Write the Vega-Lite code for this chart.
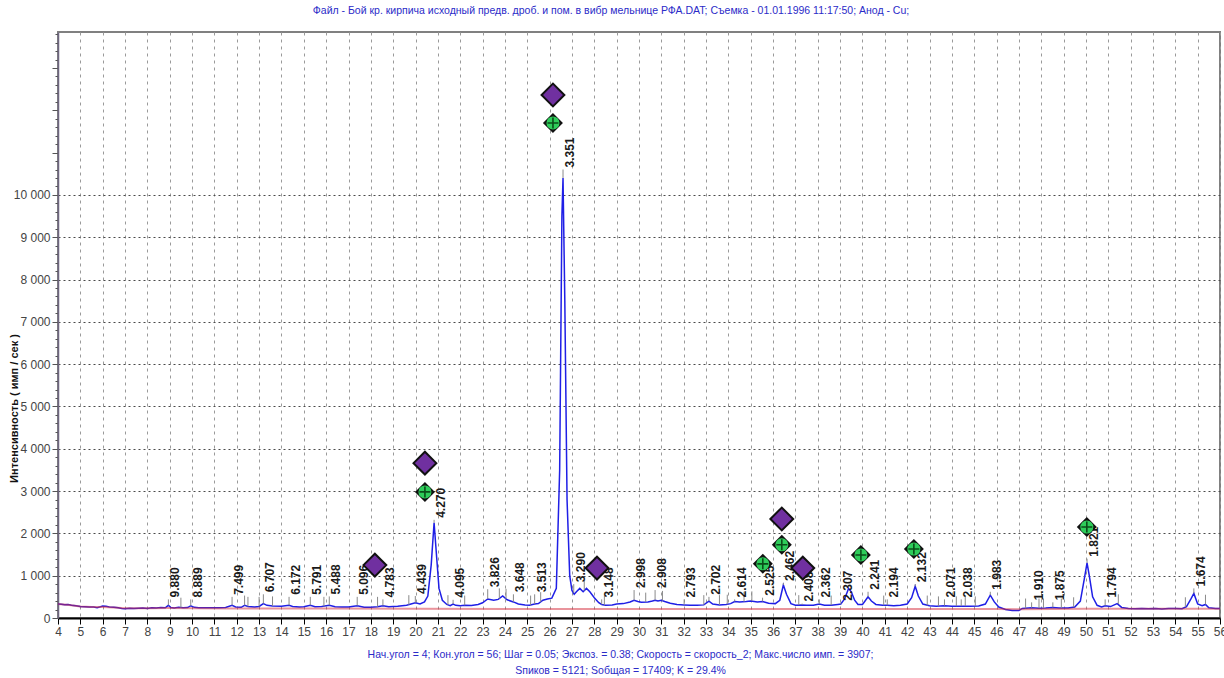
{
  "$schema": "https://vega.github.io/schema/vega-lite/v6.json",
  "width": 1162,
  "height": 586,
  "autosize": {"type": "none"},
  "padding": {"left": 58, "top": 32, "right": 4, "bottom": 60},
  "background": "white",
  "config": {
    "font": "Liberation Sans",
    "view": {"stroke": "#808080", "strokeWidth": 2}
  },
  "title": {
    "text": "Файл - Бой кр. кирпича исходный предв. дроб. и пом. в вибр мельнице РФА.DAT;  Съемка - 01.01.1996 11:17:50;  Анод - Cu;",
    "fontSize": 10.5,
    "fontWeight": "normal",
    "color": "#2b2bc8",
    "anchor": "middle",
    "frame": "group",
    "dx": -28,
    "offset": 12
  },
  "datasets": {
    "profile": [
      {"t":4.0,"I":330},{"t":4.15,"I":325},{"t":4.3,"I":315},{"t":4.45,"I":318},{"t":4.6,"I":300},{"t":4.8,"I":290},{"t":5.0,"I":272},{"t":5.2,"I":268},{"t":5.4,"I":262},{"t":5.6,"I":258},{"t":5.75,"I":245},{"t":5.9,"I":268},{"t":6.0,"I":285},{"t":6.15,"I":275},{"t":6.3,"I":262},{"t":6.5,"I":255},{"t":6.7,"I":242},{"t":6.85,"I":225},{"t":7.0,"I":218},{"t":7.2,"I":232},{"t":7.4,"I":222},{"t":7.6,"I":232},{"t":7.8,"I":236},{"t":8.0,"I":226},{"t":8.2,"I":240},{"t":8.4,"I":236},{"t":8.6,"I":246},{"t":8.8,"I":240},{"t":8.94,"I":300},{"t":9.05,"I":246},{"t":9.2,"I":236},{"t":9.4,"I":252},{"t":9.6,"I":242},{"t":9.8,"I":246},{"t":9.94,"I":290},{"t":10.1,"I":252},{"t":10.3,"I":244},{"t":10.6,"I":240},{"t":10.9,"I":242},{"t":11.2,"I":244},{"t":11.5,"I":248},{"t":11.79,"I":300},{"t":11.95,"I":262},{"t":12.2,"I":252},{"t":12.35,"I":300},{"t":12.5,"I":272},{"t":12.8,"I":262},{"t":13.0,"I":272},{"t":13.19,"I":340},{"t":13.35,"I":300},{"t":13.6,"I":282},{"t":14.0,"I":280},{"t":14.34,"I":300},{"t":14.5,"I":272},{"t":14.8,"I":262},{"t":15.0,"I":266},{"t":15.29,"I":300},{"t":15.5,"I":266},{"t":15.8,"I":272},{"t":16.14,"I":300},{"t":16.4,"I":266},{"t":16.7,"I":262},{"t":17.0,"I":262},{"t":17.39,"I":290},{"t":17.7,"I":256},{"t":18.0,"I":256},{"t":18.3,"I":266},{"t":18.54,"I":290},{"t":18.8,"I":266},{"t":19.2,"I":276},{"t":19.6,"I":300},{"t":19.99,"I":360},{"t":20.2,"I":330},{"t":20.4,"I":380},{"t":20.55,"I":520},{"t":20.7,"I":1250},{"t":20.83,"I":2250},{"t":20.95,"I":1400},{"t":21.05,"I":700},{"t":21.2,"I":420},{"t":21.4,"I":320},{"t":21.55,"I":290},{"t":21.68,"I":330},{"t":21.8,"I":300},{"t":22.0,"I":290},{"t":22.2,"I":300},{"t":22.5,"I":295},{"t":22.8,"I":320},{"t":23.0,"I":360},{"t":23.23,"I":450},{"t":23.5,"I":420},{"t":23.7,"I":440},{"t":23.9,"I":520},{"t":24.1,"I":430},{"t":24.38,"I":380},{"t":24.6,"I":330},{"t":24.9,"I":310},{"t":25.1,"I":300},{"t":25.33,"I":330},{"t":25.5,"I":340},{"t":25.7,"I":420},{"t":25.9,"I":450},{"t":26.1,"I":470},{"t":26.3,"I":700},{"t":26.45,"I":3500},{"t":26.55,"I":9500},{"t":26.6,"I":10400},{"t":26.68,"I":7500},{"t":26.78,"I":2800},{"t":26.9,"I":1000},{"t":27.0,"I":650},{"t":27.1,"I":560},{"t":27.2,"I":620},{"t":27.35,"I":700},{"t":27.5,"I":620},{"t":27.65,"I":700},{"t":27.8,"I":620},{"t":28.0,"I":480},{"t":28.2,"I":360},{"t":28.33,"I":320},{"t":28.5,"I":300},{"t":28.8,"I":310},{"t":29.0,"I":330},{"t":29.3,"I":340},{"t":29.6,"I":380},{"t":29.78,"I":420},{"t":29.95,"I":390},{"t":30.1,"I":370},{"t":30.4,"I":380},{"t":30.6,"I":400},{"t":30.72,"I":420},{"t":30.85,"I":400},{"t":31.0,"I":420},{"t":31.15,"I":390},{"t":31.4,"I":350},{"t":31.7,"I":320},{"t":32.02,"I":310},{"t":32.3,"I":300},{"t":32.6,"I":300},{"t":32.9,"I":310},{"t":33.13,"I":400},{"t":33.3,"I":330},{"t":33.6,"I":310},{"t":33.9,"I":320},{"t":34.1,"I":340},{"t":34.28,"I":390},{"t":34.5,"I":380},{"t":34.8,"I":390},{"t":35.0,"I":400},{"t":35.3,"I":380},{"t":35.53,"I":390},{"t":35.8,"I":350},{"t":36.1,"I":340},{"t":36.3,"I":420},{"t":36.46,"I":780},{"t":36.6,"I":560},{"t":36.8,"I":340},{"t":37.0,"I":300},{"t":37.3,"I":310},{"t":37.5,"I":300},{"t":37.8,"I":300},{"t":38.07,"I":330},{"t":38.3,"I":300},{"t":38.6,"I":300},{"t":38.9,"I":320},{"t":39.03,"I":330},{"t":39.2,"I":450},{"t":39.38,"I":700},{"t":39.5,"I":620},{"t":39.65,"I":420},{"t":39.8,"I":320},{"t":40.0,"I":320},{"t":40.1,"I":390},{"t":40.25,"I":500},{"t":40.4,"I":400},{"t":40.6,"I":320},{"t":40.9,"I":300},{"t":41.11,"I":300},{"t":41.4,"I":290},{"t":41.7,"I":300},{"t":42.0,"I":330},{"t":42.2,"I":480},{"t":42.36,"I":750},{"t":42.5,"I":520},{"t":42.7,"I":330},{"t":43.0,"I":290},{"t":43.3,"I":280},{"t":43.67,"I":290},{"t":44.0,"I":280},{"t":44.42,"I":280},{"t":44.8,"I":280},{"t":45.2,"I":285},{"t":45.5,"I":330},{"t":45.72,"I":540},{"t":45.9,"I":380},{"t":46.1,"I":260},{"t":46.4,"I":200},{"t":46.7,"I":180},{"t":47.0,"I":175},{"t":47.15,"I":225},{"t":47.57,"I":240},{"t":47.9,"I":232},{"t":48.2,"I":238},{"t":48.52,"I":250},{"t":48.8,"I":236},{"t":49.2,"I":238},{"t":49.5,"I":260},{"t":49.75,"I":400},{"t":49.92,"I":900},{"t":50.05,"I":1300},{"t":50.15,"I":1000},{"t":50.3,"I":500},{"t":50.5,"I":300},{"t":50.7,"I":260},{"t":50.86,"I":290},{"t":51.1,"I":270},{"t":51.4,"I":340},{"t":51.6,"I":250},{"t":51.9,"I":225},{"t":52.2,"I":220},{"t":52.5,"I":226},{"t":52.8,"I":216},{"t":53.1,"I":222},{"t":53.4,"I":214},{"t":53.7,"I":222},{"t":54.0,"I":224},{"t":54.3,"I":220},{"t":54.5,"I":270},{"t":54.7,"I":450},{"t":54.83,"I":580},{"t":55.0,"I":330},{"t":55.2,"I":290},{"t":55.35,"I":320},{"t":55.5,"I":240},{"t":55.8,"I":226},{"t":56.0,"I":222}
    ],
    "bg": [
      {"t":4,"I":330},{"t":4.5,"I":305},{"t":5,"I":272},{"t":5.5,"I":260},{"t":6,"I":258},{"t":6.5,"I":250},{"t":7,"I":232},{"t":8,"I":232},{"t":9,"I":236},{"t":10,"I":232},{"t":12,"I":226},{"t":16,"I":222},{"t":20,"I":218},{"t":25,"I":215},{"t":30,"I":213},{"t":35,"I":212},{"t":40,"I":212},{"t":46,"I":212},{"t":47,"I":208},{"t":50,"I":216},{"t":56,"I":218}
    ],
    "ticks": [
      {"t":8.94,"I":300,"I2":440},{"t":9.94,"I":290,"I2":440},{"t":11.79,"I":300,"I2":500},{"t":13.19,"I":340,"I2":560},{"t":14.34,"I":300,"I2":500},{"t":15.29,"I":300,"I2":500},{"t":16.14,"I":300,"I2":510},{"t":17.39,"I":290,"I2":500},{"t":18.54,"I":290,"I2":440},{"t":19.99,"I":360,"I2":520},{"t":20.83,"I":2250,"I2":2320},{"t":21.68,"I":330,"I2":430},{"t":23.23,"I":450,"I2":680},{"t":24.38,"I":380,"I2":560},{"t":25.33,"I":330,"I2":560},{"t":26.6,"I":10400,"I2":10600},{"t":27.08,"I":600,"I2":800},{"t":28.33,"I":320,"I2":440},{"t":29.78,"I":420,"I2":660},{"t":30.72,"I":420,"I2":660},{"t":32.02,"I":310,"I2":440},{"t":33.13,"I":400,"I2":500},{"t":34.28,"I":390,"I2":440},{"t":35.53,"I":390,"I2":480},{"t":36.46,"I":780,"I2":830},{"t":37.3,"I":310,"I2":340},{"t":38.07,"I":330,"I2":440},{"t":39.03,"I":330,"I2":360},{"t":40.25,"I":500,"I2":620},{"t":41.11,"I":300,"I2":440},{"t":42.36,"I":750,"I2":800},{"t":43.67,"I":290,"I2":440},{"t":44.42,"I":280,"I2":440},{"t":45.72,"I":540,"I2":620},{"t":47.57,"I":240,"I2":370},{"t":48.52,"I":250,"I2":370},{"t":50.05,"I":1300,"I2":1400},{"t":50.86,"I":290,"I2":440},{"t":54.83,"I":580,"I2":700},
      {"t":9.5,"I":248,"I2":480},{"t":12.35,"I":300,"I2":530},{"t":12.5,"I":272,"I2":500},{"t":13.0,"I":272,"I2":500},{"t":13.6,"I":282,"I2":510},{"t":15.9,"I":272,"I2":500},{"t":18.3,"I":266,"I2":500},{"t":19.7,"I":310,"I2":540},{"t":21.45,"I":310,"I2":540},{"t":22.2,"I":300,"I2":530},{"t":23.75,"I":460,"I2":700},{"t":24.05,"I":450,"I2":690},{"t":25.15,"I":300,"I2":530},{"t":25.6,"I":380,"I2":610},{"t":27.55,"I":650,"I2":880},{"t":28.45,"I":300,"I2":530},{"t":30.3,"I":375,"I2":600},{"t":31.05,"I":410,"I2":640},{"t":32.9,"I":310,"I2":540},{"t":33.6,"I":310,"I2":540},{"t":33.95,"I":320,"I2":550},{"t":34.7,"I":385,"I2":620},{"t":35.05,"I":400,"I2":630},{"t":37.15,"I":305,"I2":540},{"t":38.6,"I":300,"I2":530},{"t":40.95,"I":300,"I2":530},{"t":42.9,"I":295,"I2":530},{"t":43.4,"I":280,"I2":510},{"t":44.2,"I":280,"I2":510},{"t":44.6,"I":280,"I2":510},{"t":45.05,"I":282,"I2":510},{"t":47.3,"I":228,"I2":460},{"t":47.9,"I":232,"I2":460},{"t":48.1,"I":236,"I2":460},{"t":48.9,"I":236,"I2":460},{"t":49.45,"I":255,"I2":490},{"t":51.45,"I":330,"I2":560},{"t":54.45,"I":260,"I2":490},{"t":55.35,"I":320,"I2":550}
    ],
    "peaks": [
      {"t":8.94,"I":440,"d":"9.880"},{"t":9.94,"I":440,"d":"8.889"},{"t":11.79,"I":500,"d":"7.499"},{"t":13.19,"I":560,"d":"6.707"},{"t":14.34,"I":500,"d":"6.172"},{"t":15.29,"I":500,"d":"5.791"},{"t":16.14,"I":510,"d":"5.488"},{"t":17.39,"I":500,"d":"5.096"},{"t":18.54,"I":440,"d":"4.783"},{"t":19.99,"I":520,"d":"4.439"},{"t":20.83,"I":2320,"d":"4.270"},{"t":21.68,"I":430,"d":"4.095"},{"t":23.23,"I":680,"d":"3.826"},{"t":24.38,"I":560,"d":"3.648"},{"t":25.33,"I":560,"d":"3.513"},{"t":26.6,"I":10600,"d":"3.351"},{"t":27.08,"I":800,"d":"3.290"},{"t":28.33,"I":440,"d":"3.148"},{"t":29.78,"I":660,"d":"2.998"},{"t":30.72,"I":660,"d":"2.908"},{"t":32.02,"I":440,"d":"2.793"},{"t":33.13,"I":500,"d":"2.702"},{"t":34.28,"I":440,"d":"2.614"},{"t":35.53,"I":480,"d":"2.525"},{"t":36.46,"I":830,"d":"2.462"},{"t":37.3,"I":340,"d":"2.408"},{"t":38.07,"I":440,"d":"2.362"},{"t":39.03,"I":360,"d":"2.307"},{"t":40.25,"I":620,"d":"2.241"},{"t":41.11,"I":440,"d":"2.194"},{"t":42.36,"I":800,"d":"2.132"},{"t":43.67,"I":440,"d":"2.071"},{"t":44.42,"I":440,"d":"2.038"},{"t":45.72,"I":620,"d":"1.983"},{"t":47.57,"I":370,"d":"1.910"},{"t":48.52,"I":370,"d":"1.875"},{"t":50.05,"I":1400,"d":"1.821"},{"t":50.86,"I":440,"d":"1.794"},{"t":54.83,"I":700,"d":"1.674"}
    ],
    "purple": [
      {"t":26.15,"I":12360},{"t":20.42,"I":3660},{"t":18.18,"I":1250},{"t":28.12,"I":1180},{"t":36.39,"I":2340},{"t":37.33,"I":1180}
    ],
    "green": [
      {"t":26.15,"I":11700},{"t":20.42,"I":2980},{"t":35.54,"I":1280},{"t":36.39,"I":1730},{"t":39.93,"I":1490},{"t":42.3,"I":1630},{"t":50.04,"I":2150}
    ]
  },
  "encoding": {
    "x": {
      "field": "t", "type": "quantitative",
      "scale": {"domain": [4, 56], "nice": false, "zero": false},
      "axis": {
        "values": [4,5,6,7,8,9,10,11,12,13,14,15,16,17,18,19,20,21,22,23,24,25,26,27,28,29,30,31,32,33,34,35,36,37,38,39,40,41,42,43,44,45,46,47,48,49,50,51,52,53,54,55,56],
        "title": ["Нач.угол = 4;  Кон.угол = 56;  Шаг = 0.05;  Экспоз. = 0.38;  Скорость = скорость_2;  Макс.число имп. = 3907;", "Sпиков =  5121;  Sобщая =  17409;  K =  29.4%"],
        "titleFontSize": 10.5,
        "titleFontWeight": "normal",
        "titleColor": "#2b2bc8",
        "titleAlign": "center",
        "titleAnchor": "middle",
        "titleX": 562,
        "titleY": 31,
        "titleBaseline": "top",
        "titleLineHeight": 16,
        "grid": true,
        "gridColor": "#9a9a9a",
        "gridDash": [3, 4],
        "gridWidth": 1,
        "domainColor": "#000000",
        "domainWidth": 2,
        "tickColor": "#000000",
        "tickSize": 6,
        "labelFontSize": 12,
        "labelColor": "#444444",
        "labelPadding": 2,
        "labelFlush": false,
        "labelOverlap": false,
        "labelBound": false
      }
    },
    "y": {
      "field": "I", "type": "quantitative",
      "scale": {"domain": [0, 13850], "nice": false},
      "axis": {
        "values": [0,200,400,600,800,1000,1200,1400,1600,1800,2000,2200,2400,2600,2800,3000,3200,3400,3600,3800,4000,4200,4400,4600,4800,5000,5200,5400,5600,5800,6000,6200,6400,6600,6800,7000,7200,7400,7600,7800,8000,8200,8400,8600,8800,9000,9200,9400,9600,9800,10000,10200,10400,10600,10800,11000,11200,11400,11600,11800,12000,12200,12400,12600,12800,13000,13200,13400,13600,13800],
        "labelExpr": "datum.value % 1000 === 0 && datum.value <= 10000 ? replace(format(datum.value, ','), ',', ' ') : ''",
        "title": "Интенсивность ( имп / сек )",
        "titleFontSize": 11,
        "titleFontWeight": "bold",
        "titleColor": "#111111",
        "titleX": -44,
        "titleY": 376,
        "titleAngle": 270,
        "titleAlign": "center",
        "titleBaseline": "middle",
        "grid": true,
        "gridColor": "#4a4a4a",
        "gridDash": [2, 3],
        "gridOpacity": {"condition": {"test": "datum.value % 1000 === 0 && datum.value > 0 && datum.value <= 10000", "value": 1}, "value": 0},
        "domainColor": "#6e6680",
        "domainWidth": 1.5,
        "tickColor": "#555555",
        "tickSize": {"condition": {"test": "datum.value % 1000 === 0", "value": 6}, "value": 3},
        "labelFontSize": 12,
        "labelColor": "#444444",
        "labelPadding": 2,
        "labelOverlap": false,
        "labelFlush": false,
        "labelBound": false
      }
    }
  },
  "layer": [
    {
      "data": {"name": "profile"},
      "mark": {"type": "line", "color": "#1f1fe6", "strokeWidth": 1.5}
    },
    {
      "data": {"name": "bg"},
      "mark": {"type": "line", "color": "#d42a3a", "opacity": 0.5, "strokeWidth": 2}
    },
    {
      "data": {"name": "ticks"},
      "mark": {"type": "rule", "color": "#8a8a8a", "strokeWidth": 1},
      "encoding": {"y2": {"field": "I2"}}
    },
    {
      "data": {"name": "peaks"},
      "mark": {"type": "text", "angle": 270, "align": "left", "baseline": "middle", "dx": 2, "dy": 7, "fontSize": 12, "fontWeight": "bold", "color": "#1a1a1a"},
      "encoding": {"text": {"field": "d"}}
    },
    {
      "data": {"name": "purple"},
      "mark": {"type": "point", "shape": "diamond", "filled": true, "size": 520, "fill": "#7030a0", "stroke": "#111111", "strokeWidth": 2, "opacity": 1}
    },
    {
      "data": {"name": "green"},
      "mark": {"type": "point", "shape": "diamond", "filled": true, "size": 400, "color": "#111111", "opacity": 1}
    },
    {
      "data": {"name": "green"},
      "mark": {"type": "point", "shape": "circle", "filled": true, "size": 170, "color": "#2ecc5a", "opacity": 1}
    },
    {
      "data": {"name": "green"},
      "mark": {"type": "point", "shape": "M-1,0L1,0M0,-1L0,1", "filled": false, "size": 120, "stroke": "#0b4d1a", "strokeWidth": 1.6, "opacity": 1}
    }
  ]
}
